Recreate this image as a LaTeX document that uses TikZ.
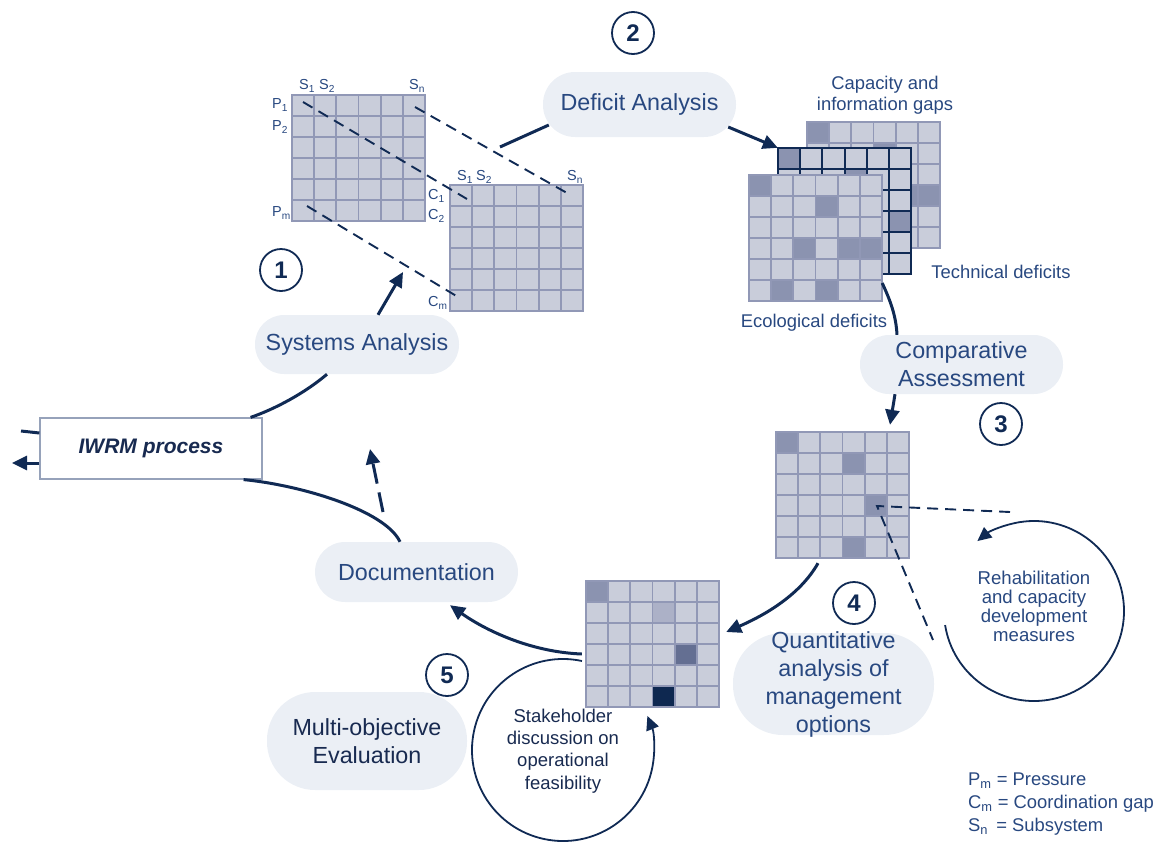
\documentclass[tikz,border=0pt]{standalone}
\usepackage{fontspec}
\setmainfont{Liberation Sans}
\usetikzlibrary{arrows.meta}

\definecolor{navy}{RGB}{16,42,84}
\definecolor{txtblue}{RGB}{40,72,128}
\definecolor{txtdark}{RGB}{24,42,80}
\definecolor{pillfill}{RGB}{235,239,245}
\definecolor{cellfill}{RGB}{201,205,218}
\definecolor{cellline}{RGB}{145,152,182}
\definecolor{celldark}{RGB}{139,147,176}
\definecolor{cellmid}{RGB}{172,177,199}
\definecolor{cellslate}{RGB}{100,111,146}
\definecolor{cellnavy}{RGB}{14,40,80}
\definecolor{boxline}{RGB}{150,162,186}

% 6x6 matrix: top-left x, top-left y, highlighted cells (row/col/colour), grid line style
\newcommand{\cellgrid}[4]{%
  \fill[cellfill] (#1,#2) rectangle ++(133,126);
  \foreach \rw/\cl/\kc in {#3}{%
    \fill[\kc] ({#1+\cl*133/6},{#2+\rw*21}) rectangle ++(133/6,21);}
  \foreach \i in {0,...,6}{%
    \draw[#4] ({#1+\i*133/6},#2) -- ++(0,126);
    \draw[#4] (#1,{#2+\i*21}) -- ++(133,0);}%
}

\begin{document}
\begin{tikzpicture}[x=1pt,y=-1pt,
  pill/.style={fill=pillfill, text=txtblue, align=center, inner sep=0pt,
    font=\fontsize{23.3}{28}\selectfont},
  numring/.style={circle, draw=navy, line width=1.8pt, minimum size=42pt,
    inner sep=0pt, text=navy, font=\bfseries\fontsize{24}{24}\selectfont},
  mainline/.style={draw=navy, line width=3pt},
  mainarrow/.style={mainline, -{Triangle[length=15pt,width=14pt]}},
  ringline/.style={draw=navy, line width=1.8pt},
  ringarrow/.style={ringline, -{Triangle[length=14pt,width=13pt]}},
  leader/.style={draw=navy, line width=1.9pt, dash pattern=on 11pt off 7pt},
  gridline/.style={draw=cellline, line width=1.8pt, line cap=rect},
  techline/.style={draw=navy, line width=2pt, line cap=rect},
  smalltext/.style={text=txtblue, align=center, inner sep=0pt,
    font=\fontsize{18.4}{21}\selectfont},
  axlabel/.style={text=txtblue, inner sep=0pt, font=\fontsize{14.5}{15}\selectfont},
  matbox/.style={minimum width=133pt, minimum height=126pt, inner sep=0pt}]

\useasboundingbox (0,0) rectangle (1170,841);

% ---------- matrices ----------
\cellgrid{292}{95}{0/0/cellfill}{gridline}
\cellgrid{450}{185}{0/0/cellfill}{gridline}
\cellgrid{807}{122}{0/0/celldark,1/3/celldark,3/4/celldark,3/5/celldark}{gridline}
\cellgrid{778}{148}{0/0/celldark,1/3/celldark,3/5/celldark}{techline}
\cellgrid{749}{175}{0/0/celldark,1/3/celldark,3/2/celldark,3/4/celldark,3/5/celldark,5/1/celldark,5/3/celldark}{gridline}
\cellgrid{776}{432}{0/0/celldark,1/3/celldark,3/4/celldark,5/3/celldark}{gridline}
\cellgrid{586}{581}{0/0/celldark,1/3/cellmid,3/4/cellslate,5/3/cellnavy}{gridline}

\node[matbox] (pmat) at (358.5,158) {};
\node[matbox] (cmat) at (516.5,248) {};
\node[matbox] (techmat) at (844.5,211) {};
\node[matbox] (ecomat) at (815.5,238) {};
\node[matbox] (cmpmat) at (842.5,495) {};
\node[matbox] (evalmat) at (652.5,644) {};

% ---------- axis labels of the pressure / coordination matrices ----------
\node[axlabel] (ps1) at (307,86) {S\textsubscript{1}};
\node[axlabel] (ps2) at (327,86) {S\textsubscript{2}};
\node[axlabel] (psn) at (417,86) {S\textsubscript{n}};
\node[axlabel, anchor=west] (pp1) at (272,105) {P\textsubscript{1}};
\node[axlabel, anchor=west] (pp2) at (272,127) {P\textsubscript{2}};
\node[axlabel, anchor=west] (ppm) at (272,213) {P\textsubscript{m}};
\node[axlabel] (cs1) at (465,177) {S\textsubscript{1}};
\node[axlabel] (cs2) at (484,177) {S\textsubscript{2}};
\node[axlabel] (csn) at (575,177) {S\textsubscript{n}};
\node[axlabel, anchor=west] (cc1) at (428,196) {C\textsubscript{1}};
\node[axlabel, anchor=west] (cc2) at (428,216) {C\textsubscript{2}};
\node[axlabel, anchor=west] (ccm) at (428,303) {C\textsubscript{m}};

% projection lines between the two matrices
\coordinate (p1s) at (303,102); \coordinate (c1e) at (467,199);
\coordinate (sns) at (415,107); \coordinate (sne) at (567,193);
\coordinate (pms) at (307,206); \coordinate (cme) at (458,297);
\draw[leader] (p1s) -- (c1e);
\draw[leader] (sns) -- (sne);
\draw[leader] (pms) -- (cme);

% ---------- process steps ----------
\node[pill, minimum width=204pt, minimum height=59pt, rounded corners=29pt] (sa) at (357,344.5) {Systems Analysis};
\node[pill, minimum width=193pt, minimum height=65pt, rounded corners=32pt] (da) at (639.5,104.5) {Deficit Analysis};
\node[pill, minimum width=203pt, minimum height=59pt, rounded corners=29pt] (ca) at (961.5,364.5) {Comparative\\Assessment};
\node[pill, minimum width=201pt, minimum height=102pt, rounded corners=50pt, inner ysep=-3pt] (qa) at (833.5,684) {Quantitative\\analysis of\\management\\options};
\node[pill, text=txtdark, minimum width=200pt, minimum height=98pt, rounded corners=48pt] (mo) at (367,741) {Multi-objective\\Evaluation};
\node[pill, minimum width=203pt, minimum height=60pt, rounded corners=30pt] (doc) at (416.5,572) {Documentation};

\node[draw=boxline, line width=1.2pt, fill=white, minimum width=222pt, minimum height=61pt,
  text=txtdark, font=\bfseries\itshape\fontsize{21}{21}\selectfont] (box) at (151,448.5) {IWRM process};

% ---------- step numbers ----------
\node[numring] (n1) at (281,270) {1};
\node[numring] (n2) at (633,33) {2};
\node[numring] (n3) at (1001,424) {3};
\node[numring] (n4) at (854,603) {4};
\node[numring] (n5) at (447,675) {5};

% ---------- matrix captions ----------
\node[smalltext] (capgap) at (885,95.5) {Capacity and\\information gaps};
\node[smalltext] (techcap) at (1001,272) {Technical deficits};
\node[smalltext] (ecocap) at (814,323) {Ecological deficits};

% ---------- main cycle ----------
\coordinate (satip) at (403,272);
\coordinate (dastart) at (500,147);
\draw[mainline] ([xshift=-12pt]box.north east) .. controls (275,409) and (305,393) .. ([xshift=-30pt]sa.south);
\draw[mainarrow] ([xshift=21pt]sa.north) -- (satip);
\draw[mainline] (dastart) -- ([xshift=6pt,yshift=-20.5pt]da.west);
\draw[mainarrow] ([xshift=-8pt,yshift=-22.5pt]da.east) -- (techmat.north west);
\draw[mainline] ([yshift=-45pt]ecomat.east) .. controls (890,300) and (896,315) .. ([xshift=-64.5pt]ca.north);
\draw[mainarrow] ([xshift=-66.5pt]ca.south) -- ([xshift=47.5pt,yshift=7pt]cmpmat.north);
\draw[mainarrow] ([xshift=-24.5pt,yshift=-5pt]cmpmat.south) .. controls (800,595) and (765,615) .. ([xshift=7pt,yshift=12pt]evalmat.east);
\draw[mainarrow] ([xshift=-4pt,yshift=-10pt]evalmat.west) .. controls (530,652) and (485,630) .. ([xshift=33.5pt,yshift=-3pt]doc.south);
\draw[mainline] ([xshift=-19pt]box.south east) .. controls (300,485) and (385,510) .. ([xshift=-16.5pt]doc.north);
\coordinate (dashfoot) at (383,512);
\coordinate (dashtip) at (370,449);
\draw[mainarrow, dash pattern=on 20pt off 9pt] (dashfoot) -- (dashtip);

% inputs / outputs of the IWRM process
\coordinate (instub) at (21,431);
\coordinate (outtip) at (12,463);
\draw[mainline] (instub) -- ([yshift=15.5pt]box.west);
\draw[mainarrow] ([yshift=-14.5pt]box.west) -- (outtip);

% ---------- rehabilitation loop ----------
\coordinate (hot) at (877,506);
\coordinate (hotr) at (1010,512);
\coordinate (hotd) at (933,640);
\draw[leader] (hotr) -- (hot) -- (hotd);
\coordinate (rhc) at (1034,611);
\draw[ringarrow] ([shift={(189:90pt)}]rhc) arc[start angle=189, end angle=489, radius=90pt];
\node[smalltext, font=\fontsize{18.6}{19}\selectfont] (rhtext) at (1034,606) {Rehabilitation\\and capacity\\development\\measures};

% ---------- stakeholder loop ----------
\coordinate (stc) at (563,750);
\draw[ringarrow] ([shift={(78:91pt)}]stc) arc[start angle=78, end angle=382, radius=91pt];
\node[smalltext, text=txtdark, font=\fontsize{18.5}{22.3}\selectfont] (sttext) at (563,751) {Stakeholder\\discussion on\\operational\\feasibility};

% ---------- legend ----------
\node[smalltext, align=left, anchor=west, font=\fontsize{18.4}{23}\selectfont] (legend) at (968,804)
  {P\textsubscript{m} = Pressure\\C\textsubscript{m} = Coordination gap\\S\textsubscript{n} \,= Subsystem};

\end{tikzpicture}
\end{document}
